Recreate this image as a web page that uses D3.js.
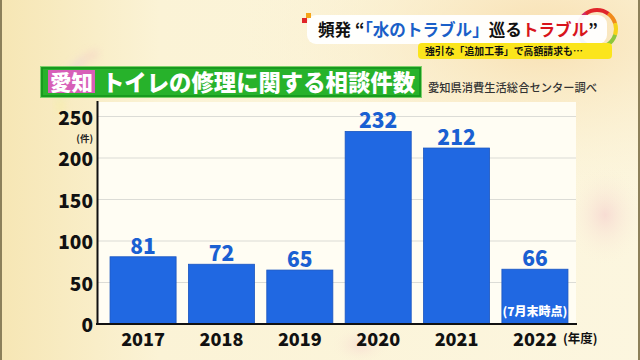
<!DOCTYPE html>
<html><head><meta charset="utf-8">
<script src="https://cdn.jsdelivr.net/npm/d3@7"></script>
<style>
html,body{margin:0;padding:0;background:#fbf4d8;}
svg{display:block;}
text{font-family:"Noto Sans CJK JP","Noto Sans",sans-serif;}
</style></head>
<body>
<svg id="chart" width="640" height="360"></svg>
<script>
const years = ["2017","2018","2019","2020","2021","2022"];
const counts = [81,72,65,232,212,66];
const yTicks = [0,50,100,150,200,250];
const headline = [
  {t:"頻発 “", c:"#111"},
  {t:"「水のトラブル」", c:"#1a5fc8"},
  {t:"巡る", c:"#111"},
  {t:"トラブル", c:"#d8141c"},
  {t:"”", c:"#111"}
];
const subHeadline = "強引な「追加工事」で高額請求も…";
const regionTag = "愛知";
const title = "トイレの修理に関する相談件数";
const source = "愛知県消費生活総合センター調べ";
const unitLabel = "(件)";
const yearUnit = "(年度)";
const note2022 = "(7月末時点)";

const svg = d3.select("#chart");
const defs = svg.append("defs");

// fit a text element to a target width by adjusting font size
function fitWidth(sel, target, base){
  const w = sel.node().getComputedTextLength();
  if (w > 0) sel.attr("font-size", base*target/w);
  return sel;
}

// background
const bg = defs.append("radialGradient").attr("id","bgWarm").attr("cx","0.85").attr("cy","0.1").attr("r","0.5");
bg.append("stop").attr("offset","0").attr("stop-color","#f8dfb0");
bg.append("stop").attr("offset","1").attr("stop-color","#fbf4d8").attr("stop-opacity",0);
const bgPink = defs.append("radialGradient").attr("id","bgPink").attr("cx","0.5").attr("cy","0.5").attr("r","0.5");
bgPink.append("stop").attr("offset","0").attr("stop-color","#f4cccc");
bgPink.append("stop").attr("offset","1").attr("stop-color","#fbf4d8").attr("stop-opacity",0);
const bgLeft = defs.append("linearGradient").attr("id","bgLeft").attr("x1","0").attr("x2","1");
bgLeft.append("stop").attr("offset","0").attr("stop-color","#f6e6b4");
bgLeft.append("stop").attr("offset","0.25").attr("stop-color","#fbf3d6");
bgLeft.append("stop").attr("offset","1").attr("stop-color","#fcf6df");
defs.append("filter").attr("id","blur").append("feGaussianBlur").attr("stdDeviation",4);

svg.append("rect").attr("width",640).attr("height",360).attr("fill","url(#bgLeft)");
svg.append("rect").attr("width",640).attr("height",360).attr("fill","url(#bgWarm)");
svg.append("ellipse").attr("cx",605).attr("cy",215).attr("rx",40).attr("ry",50).attr("fill","url(#bgPink)").attr("opacity",0.6);
svg.append("ellipse").attr("cx",360).attr("cy",345).attr("rx",30).attr("ry",20).attr("fill","url(#bgPink)").attr("opacity",0.5);
// faint rainbow ring left
const ringCols = ["#f5ef9a","#d8ecc0","#c9dcef","#e6c8e0","#f2c6c6"];
const faint = svg.append("g").attr("filter","url(#blur)").attr("opacity",0.55);
ringCols.forEach((c,i)=>{
  const a0 = -Math.PI*0.55 + i*0.28, a1 = a0+0.3;
  faint.append("path").attr("transform","translate(115,105)")
    .attr("d", d3.arc()({innerRadius:52,outerRadius:58,startAngle:a0,endAngle:a1}))
    .attr("fill",c);
});
// frame
svg.append("rect").attr("x",0).attr("y",0).attr("width",2).attr("height",360).attr("fill","#8c805a");
svg.append("rect").attr("x",638).attr("y",0).attr("width",2).attr("height",360).attr("fill","#8c805a");

// headline: ring
const ring = svg.append("g").attr("transform","translate(597,29)");
const ringColors = ["#e0252a","#f08a1c","#f5d31a","#8cc63e","#2aa44a","#21a3c4","#2a62c8","#6a3fa8","#d02a6a","#e0252a"];
ringColors.forEach((c,i)=>{
  ring.append("path").attr("d", d3.arc()({innerRadius:17,outerRadius:21,startAngle:i*2*Math.PI/10,endAngle:(i+1)*2*Math.PI/10+0.02})).attr("fill",c);
});
svg.append("rect").attr("x",307).attr("y",15).attr("width",300).attr("height",29).attr("rx",9).attr("fill","#fff").attr("opacity",0.95);
svg.append("rect").attr("x",302).attr("y",18).attr("width",5).attr("height",5).attr("fill","#e0252a");
svg.append("rect").attr("x",306).attr("y",13).attr("width",5).attr("height",5).attr("fill","#f5a51a");
const hl = svg.append("text").attr("x",318).attr("y",36).attr("font-size",18).attr("font-weight",700);
headline.forEach(s=>hl.append("tspan").attr("fill",s.c).text(s.t));
fitWidth(hl, 280, 18);
svg.append("rect").attr("x",418).attr("y",43).attr("width",194).attr("height",16).attr("rx",4).attr("fill","#fbe51c");
const sub = svg.append("text").attr("x",425).attr("y",55).attr("font-size",10.5).attr("font-weight",700).attr("fill","#111").text(subHeadline);
fitWidth(sub, 158, 10.5);

// title
svg.append("rect").attr("x",40.5).attr("y",66.5).attr("width",381).attr("height",31).attr("fill","#27b22b").attr("stroke","#7fd06a").attr("stroke-width",1);
svg.append("rect").attr("x",42).attr("y",68).attr("width",378).attr("height",28).attr("fill","none").attr("stroke","#15921c").attr("stroke-width",1.5);
svg.append("rect").attr("x",48).attr("y",70).attr("width",47).attr("height",23).attr("fill","#d75fb8");
svg.append("text").attr("x",71.5).attr("y",90).attr("text-anchor","middle").attr("font-size",21).attr("font-weight",900).attr("fill","#fff")
  .attr("textLength",43).attr("lengthAdjust","spacingAndGlyphs").text(regionTag);
svg.append("text").attr("x",102).attr("y",91).attr("font-size",23).attr("font-weight",900).attr("fill","#fff")
  .attr("textLength",313).attr("lengthAdjust","spacingAndGlyphs").text(title);
svg.append("text").attr("x",428).attr("y",92).attr("font-size",11.3).attr("font-weight",500).attr("fill","#333")
  .attr("textLength",169).attr("lengthAdjust","spacingAndGlyphs").text(source);

// chart
const y = d3.scaleLinear().domain([0,250]).range([324,116.5]);
const x = d3.scaleBand().domain(years).range([104,574]).paddingInner(0.157).paddingOuter(0.077);

svg.append("rect").attr("x",97).attr("y",102).attr("width",479).attr("height",222).attr("fill","#fffdf3");
svg.append("g").selectAll("line").data(yTicks.filter(d=>d>0)).join("line")
  .attr("x1",97).attr("x2",576).attr("y1",d=>y(d)).attr("y2",d=>y(d))
  .attr("stroke","#dcdcd6").attr("stroke-width",1.2);

svg.append("g").selectAll("rect").data(counts).join("rect")
  .attr("x",(d,i)=>x(years[i])).attr("width",x.bandwidth())
  .attr("y",d=>y(d)).attr("height",d=>y(0)-y(d))
  .attr("fill","#2068e2").attr("stroke","#1a55c0").attr("stroke-width",0.8);

svg.append("g").selectAll("text").data(counts).join("text")
  .attr("x",(d,i)=>x(years[i])+x.bandwidth()/2).attr("y",d=>y(d)-3)
  .attr("text-anchor","middle").attr("font-size",21).attr("font-weight",900)
  .attr("fill","#1a60d2").text(d=>d);

svg.append("text").attr("x",x("2022")+x.bandwidth()/2).attr("y",316)
  .attr("text-anchor","middle").attr("font-size",12).attr("font-weight",900).attr("fill","#fff").text(note2022);

// axes
const yAxis = d3.axisLeft(y).tickValues(yTicks).tickSize(0).tickPadding(4);
const gy = svg.append("g").attr("transform","translate(97,0)").call(yAxis);
gy.select(".domain").remove();
gy.selectAll("text").attr("font-size",19).attr("font-weight",900).attr("fill","#111")
  .attr("font-family","\"Noto Sans CJK JP\",sans-serif").attr("dy","0.42em");
svg.append("line").attr("x1",97.5).attr("x2",97.5).attr("y1",101).attr("y2",325).attr("stroke","#111").attr("stroke-width",2);
svg.append("text").attr("x",93).attr("y",142).attr("text-anchor","end").attr("font-size",9.5).attr("font-weight",700).attr("fill","#222").text(unitLabel);

const xAxis = d3.axisBottom(x).tickSize(0).tickPadding(8);
const gx = svg.append("g").attr("transform","translate(0,324)").call(xAxis);
gx.select(".domain").remove();
gx.selectAll("text").attr("font-size",18).attr("font-weight",900).attr("fill","#111")
  .attr("font-family","\"Noto Sans CJK JP\",sans-serif").attr("dy","0.8em");
svg.append("line").attr("x1",96).attr("x2",577).attr("y1",324).attr("y2",324).attr("stroke","#111").attr("stroke-width",2);
svg.append("text").attr("x",563).attr("y",343).attr("font-size",12.5).attr("font-weight",700).attr("fill","#111").text(yearUnit);
</script>
</body></html>
